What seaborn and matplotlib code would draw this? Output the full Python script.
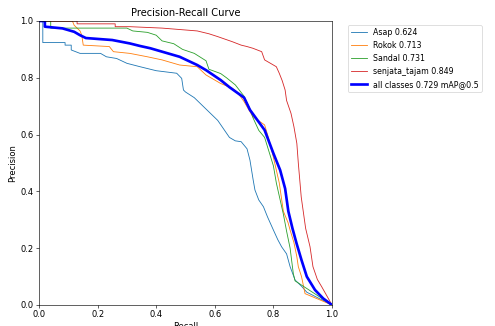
import matplotlib
matplotlib.use('Agg')
import matplotlib.pyplot as plt
import seaborn as sns

# per-class precision-recall curves
class_names = ['Asap', 'Rokok', 'Sandal', 'senjata_tajam']
class_ap = [0.624, 0.713, 0.731, 0.849]
map50 = 0.729

asap_recall = [0, 0.013, 0.013, 0.089, 0.089, 0.11, 0.11, 0.14, 0.21, 0.23, 0.265, 0.30, 0.345, 0.40, 0.47,
               0.487, 0.493, 0.50, 0.53, 0.55, 0.58, 0.61, 0.63, 0.65, 0.67, 0.69, 0.71, 0.72, 0.731, 0.737,
               0.75, 0.766, 0.78, 0.80, 0.815, 0.828, 0.845, 0.857, 0.874, 0.897, 0.914, 1.0]
asap_precision = [1.0, 1.0, 0.924, 0.924, 0.915, 0.915, 0.898, 0.886, 0.886, 0.874, 0.868, 0.851, 0.839, 0.825,
                  0.816, 0.798, 0.757, 0.75, 0.73, 0.71, 0.68, 0.65, 0.62, 0.59, 0.578, 0.575, 0.55, 0.51, 0.44,
                  0.405, 0.37, 0.346, 0.31, 0.264, 0.23, 0.205, 0.18, 0.135, 0.088, 0.065, 0.045, 0.0]

rokok_recall = [0, 0.114, 0.12, 0.14, 0.146, 0.151, 0.24, 0.254, 0.31, 0.37, 0.42, 0.48, 0.54, 0.57, 0.62,
                0.66, 0.68, 0.70, 0.73, 0.77, 0.78, 0.80, 0.82, 0.834, 0.85, 0.857, 0.87, 0.88, 0.885, 0.896,
                0.908, 1.0]
rokok_precision = [1.0, 1.0, 0.985, 0.965, 0.95, 0.915, 0.91, 0.892, 0.886, 0.874, 0.863, 0.845, 0.839, 0.81,
                   0.78, 0.763, 0.745, 0.716, 0.663, 0.634, 0.60, 0.52, 0.43, 0.33, 0.29, 0.264, 0.22, 0.17,
                   0.135, 0.10, 0.04, 0.0]

sandal_recall = [0, 0.04, 0.04, 0.30, 0.32, 0.37, 0.40, 0.42, 0.46, 0.49, 0.53, 0.57, 0.58, 0.62, 0.64, 0.67,
                 0.70, 0.72, 0.73, 0.75, 0.77, 0.80, 0.81, 0.823, 0.834, 0.845, 0.857, 0.868, 0.874, 1.0]
sandal_precision = [1.0, 1.0, 0.975, 0.975, 0.965, 0.96, 0.95, 0.93, 0.92, 0.90, 0.886, 0.86, 0.83, 0.815,
                    0.80, 0.775, 0.735, 0.69, 0.66, 0.615, 0.59, 0.49, 0.43, 0.37, 0.32, 0.26, 0.20, 0.11,
                    0.085, 0.0]

senjata_recall = [0, 0.13, 0.13, 0.26, 0.26, 0.31, 0.42, 0.48, 0.54, 0.58, 0.61, 0.66, 0.69, 0.71, 0.73,
                  0.76, 0.77, 0.79, 0.81, 0.82, 0.83, 0.84, 0.845, 0.86, 0.87, 0.88, 0.885, 0.89, 0.895,
                  0.91, 0.925, 0.935, 0.95, 0.965, 1.0]
senjata_precision = [1.0, 1.0, 0.99, 0.99, 0.98, 0.98, 0.975, 0.97, 0.965, 0.955, 0.945, 0.927, 0.915, 0.91,
                     0.904, 0.892, 0.863, 0.851, 0.839, 0.816, 0.79, 0.757, 0.72, 0.675, 0.628, 0.569, 0.50,
                     0.44, 0.38, 0.27, 0.205, 0.135, 0.09, 0.064, 0.0]

all_recall = [0, 0.02, 0.02, 0.08, 0.12, 0.14, 0.16, 0.25, 0.31, 0.345, 0.38, 0.42, 0.48, 0.54, 0.57, 0.62,
              0.65, 0.70, 0.72, 0.77, 0.80, 0.823, 0.84, 0.851, 0.865, 0.879, 0.896, 0.914, 0.942, 0.97, 1.0]
all_precision = [1.0, 1.0, 0.98, 0.974, 0.962, 0.95, 0.94, 0.933, 0.921, 0.912, 0.904, 0.892, 0.874, 0.845,
                 0.827, 0.792, 0.767, 0.73, 0.687, 0.616, 0.534, 0.475, 0.41, 0.33, 0.27, 0.217, 0.158, 0.10,
                 0.053, 0.023, 0.0]

recalls = [asap_recall, rokok_recall, sandal_recall, senjata_recall]
precisions = [asap_precision, rokok_precision, sandal_precision, senjata_precision]

plt.rcParams['font.size'] = 11

fig = plt.figure(figsize=(9, 326 / 55), dpi=55)
ax = fig.add_axes([39 / 495, 21 / 326, 293 / 495, 284 / 326])

for i, name in enumerate(class_names):
    sns.lineplot(x=recalls[i], y=precisions[i], ax=ax, sort=False, estimator=None,
                 linewidth=1.1, color=f'C{i}', label=f'{name} {class_ap[i]:.3f}')

sns.lineplot(x=all_recall, y=all_precision, ax=ax, sort=False, estimator=None,
             linewidth=3.5, color='blue', label=f'all classes {map50:.3f} mAP@0.5')

ax.set_xlabel('Recall')
ax.set_ylabel('Precision')
ax.set_xlim(0, 1)
ax.set_ylim(0, 1)
ax.set_title('Precision-Recall Curve', fontsize=13)
ax.legend(bbox_to_anchor=(1.04, 1), loc='upper left', fontsize=10.3)

fig.savefig('out.png', dpi=55)
